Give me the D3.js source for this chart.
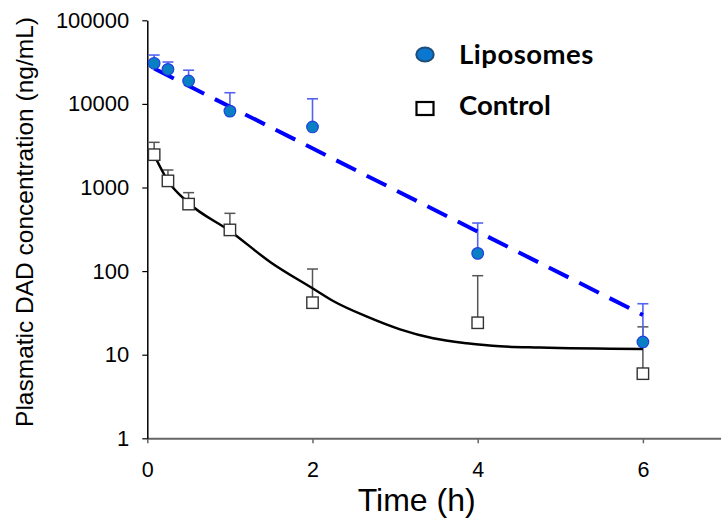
<!DOCTYPE html>
<html><head><meta charset="utf-8">
<script src="https://cdn.jsdelivr.net/npm/d3@7"></script>
<style>html,body{margin:0;padding:0;background:#fff;} svg{display:block;}</style>
</head><body>
<svg id="chart" width="721" height="519"></svg>
<script>
// ---- data ----
const time = [0.083, 0.25, 0.5, 1, 2, 4, 6];
const liposomes = [30600, 25900, 18800, 8200, 5300, 163, 14.2];
const liposomesSD = [7800, 5800, 6500, 5400, 6200, 213, 26.5];
const control = [2470, 1200, 633, 311, 41.9, 24.1, 5.93];
const controlSD = [1000, 420, 235, 180, 64, 64, 15.6];
const liposomesFitTime = [0.083, 6];
const liposomesFit = [26500, 29.9];
const controlFitTime = [0.083, 0.25, 0.5, 1, 1.5, 2, 2.25, 2.66, 3.06, 3.46, 3.87, 4.27, 4.75, 6];
const controlFit = [2450, 1200, 653, 302, 126, 62.3, 43.9, 28.5, 20.1, 15.7, 13.7, 12.6, 12.2, 11.7];
const xTicks = [0, 2, 4, 6];
const yTicks = [1, 10, 100, 1000, 10000, 100000];
const seriesNames = ["Liposomes", "Control"];

// ---- layout ----
const svg = d3.select("#chart");
const mLeft = 147.3, mTop = 20.3, mBottom = 438.3, mRight = 725.5;
const x = d3.scaleLinear().domain([0, 7]).range([mLeft, mRight]);
const y = d3.scaleLog().domain([1, 100000]).range([mBottom, mTop]);
const font = "'Liberation Sans', Arial, sans-serif";

// axes
const xAxis = svg.append("g").attr("transform", `translate(0,${mBottom})`)
  .call(d3.axisBottom(x).tickValues(xTicks).tickSize(5).tickSizeOuter(0).tickPadding(18).tickFormat(d3.format("d")));
xAxis.select(".domain").attr("stroke", "#666").attr("stroke-width", 2);
xAxis.selectAll(".tick line").attr("stroke", "#666").attr("stroke-width", 1.5);
xAxis.selectAll("text").attr("font-family", font).attr("font-size", 21.5).attr("fill", "#000");

const yAxis = svg.append("g").attr("transform", `translate(${mLeft},0)`)
  .call(d3.axisLeft(y).tickValues(yTicks).tickSize(5).tickSizeOuter(0).tickPadding(13).tickFormat(d3.format("d")));
yAxis.select(".domain").attr("stroke", "#000").attr("stroke-width", 1.5);
yAxis.selectAll(".tick line").attr("stroke", "#000").attr("stroke-width", 1.2);
yAxis.selectAll("text").attr("font-family", font).attr("font-size", 22).attr("fill", "#000");

// axis titles
svg.append("text").attr("x", 416.7).attr("y", 510.5).attr("text-anchor", "middle")
  .attr("font-family", font).attr("font-size", 32).attr("fill", "#000").text("Time (h)");
svg.append("text").attr("transform", "translate(33.3,222) rotate(-90)").attr("text-anchor", "middle")
  .attr("font-family", font).attr("font-size", 24.5).attr("fill", "#000")
  .text("Plasmatic DAD concentration (ng/mL)");

const line = d3.line().x(d => x(d[0])).y(d => y(d[1]));

// control
const ctrlData = time.map((t, i) => ({t, v: control[i], sd: controlSD[i]}));
const eb = svg.append("g").attr("stroke", "#555").attr("stroke-width", 1.5);
ctrlData.forEach(d => {
  eb.append("line").attr("x1", x(d.t)).attr("x2", x(d.t)).attr("y1", y(d.v)).attr("y2", y(d.v + d.sd));
  eb.append("line").attr("x1", x(d.t) - 5.5).attr("x2", x(d.t) + 5.5).attr("y1", y(d.v + d.sd)).attr("y2", y(d.v + d.sd));
});
svg.append("path").datum(controlFitTime.map((t, i) => [t, controlFit[i]]))
  .attr("d", line.curve(d3.curveMonotoneX)).attr("fill", "none").attr("stroke", "#000").attr("stroke-width", 2.5);
svg.append("g").selectAll("rect").data(ctrlData).join("rect")
  .attr("x", d => x(d.t) - 5.7).attr("y", d => y(d.v) - 5.7).attr("width", 11.4).attr("height", 11.4)
  .attr("fill", "#fff").attr("stroke", "#333").attr("stroke-width", 1.4);

// liposomes
const lipData = time.map((t, i) => ({t, v: liposomes[i], sd: liposomesSD[i]}));
const eb2 = svg.append("g").attr("stroke", "#5564f0").attr("stroke-width", 1.6);
lipData.forEach(d => {
  eb2.append("line").attr("x1", x(d.t)).attr("x2", x(d.t)).attr("y1", y(d.v)).attr("y2", y(d.v + d.sd));
  eb2.append("line").attr("x1", x(d.t) - 5.5).attr("x2", x(d.t) + 5.5).attr("y1", y(d.v + d.sd)).attr("y2", y(d.v + d.sd));
});
svg.append("path").datum(liposomesFitTime.map((t, i) => [t, liposomesFit[i]]))
  .attr("d", d3.line().x(d => x(d[0])).y(d => y(d[1]))).attr("fill", "none")
  .attr("stroke", "#0000ff").attr("stroke-width", 4).attr("stroke-dasharray", "22,12");
svg.append("g").selectAll("circle").data(lipData).join("circle")
  .attr("cx", d => x(d.t)).attr("cy", d => y(d.v)).attr("r", 5.8)
  .attr("fill", "#0a80c4").attr("stroke", "#2040e0").attr("stroke-width", 1.2);

// legend
const lf = "Lato, 'Open Sans', sans-serif";
svg.append("ellipse").attr("cx", 425).attr("cy", 54.5).attr("rx", 8.7).attr("ry", 7)
  .attr("fill", "#0a78d0").attr("stroke", "#1f4e79").attr("stroke-width", 2);
svg.append("text").attr("x", 459).attr("y", 64).attr("font-family", lf).attr("font-weight", "bold")
  .attr("font-size", 27.5).attr("letter-spacing", 0.5).attr("fill", "#000").text(seriesNames[0]);
svg.append("rect").attr("x", 416.5).attr("y", 102).attr("width", 17).attr("height", 13)
  .attr("fill", "#fff").attr("stroke", "#000").attr("stroke-width", 2.2);
svg.append("text").attr("x", 459).attr("y", 115).attr("font-family", lf).attr("font-weight", "bold")
  .attr("font-size", 27.5).attr("fill", "#000").text(seriesNames[1]);
</script>
</body></html>
